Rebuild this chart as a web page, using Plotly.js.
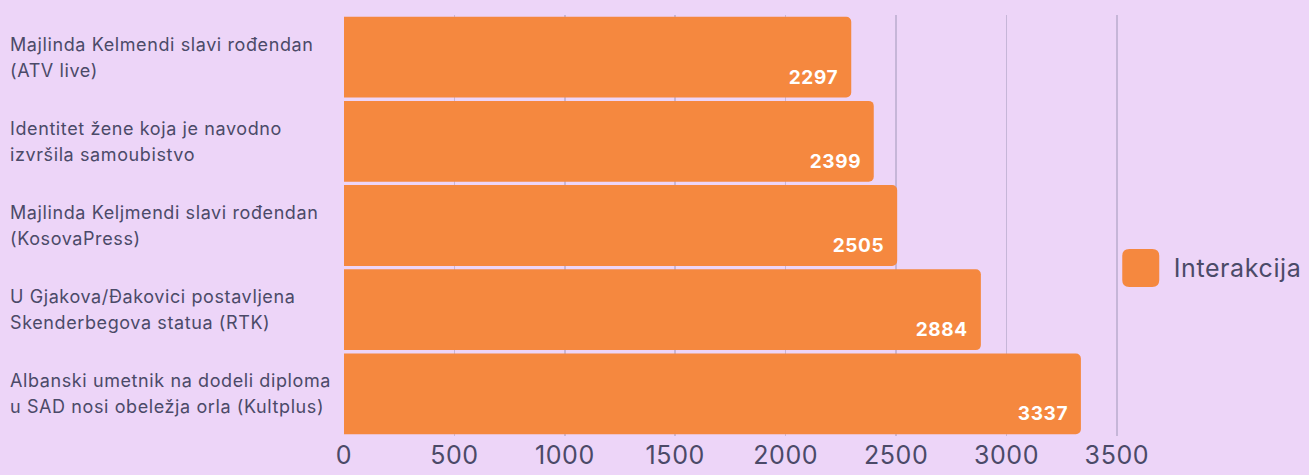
<!DOCTYPE html>
<html>
<head>
<meta charset="utf-8">
<script src="https://cdn.plot.ly/plotly-3.0.1.min.js"></script>
<style>
html,body{margin:0;padding:0;background:#EDD5F8;}
#chart{width:1309px;height:475px;}
#chart .annotation-text{letter-spacing:0.6px;}
#chart .xtick text{letter-spacing:0.6px;}
</style>
</head>
<body>
<div id="chart"></div>
<script>
const categories = [
  "Majlinda Kelmendi slavi rođendan<br>(ATV live)",
  "Identitet žene koja je navodno<br>izvršila samoubistvo",
  "Majlinda Keljmendi slavi rođendan<br>(KosovaPress)",
  "U Gjakova/Đakovici postavljena<br>Skenderbegova statua (RTK)",
  "Albanski umetnik na dodeli diploma<br>u SAD nosi obeležja orla (Kultplus)"
];
const values = [2297, 2399, 2505, 2884, 3337];
const seriesName = "Interakcija";
const tickVals = [0, 500, 1000, 1500, 2000, 2500, 3000, 3500];

const textColor = "#4B4A68";
const barColor = "#F5883F";
const bg = "#EDD5F8";
const fam = "Inter, 'Noto Sans', sans-serif";

const annotations = [];
categories.forEach((c, i) => {
  const lines = c.split("<br>");
  lines.forEach((ln, j) => {
    annotations.push({
      xref: "paper", yref: "y", x: 0, y: i, xshift: -336,
      yshift: (lines.length - 1) * 13 - j * 26,
      xanchor: "left", yanchor: "middle", align: "left",
      text: ln, showarrow: false,
      font: {family: fam, size: 18, color: textColor}
    });
  });
  annotations.push({
    xref: "x", yref: "y", x: values[i], y: i, xshift: -12, yshift: -20,
    xanchor: "right", yanchor: "middle", text: "<b>" + values[i] + "</b>",
    showarrow: false,
    font: {family: fam, size: 19, color: "#FFFFFF"}
  });
});
annotations.push({
  xref: "paper", yref: "paper", x: 1, xshift: 57, y: 0.4, xanchor: "left", yanchor: "middle",
  text: seriesName, showarrow: false,
  font: {family: fam, size: 25, color: textColor}
});

const trace = {
  type: "bar", orientation: "h",
  x: values, y: categories.map((c, i) => i),
  name: seriesName,
  marker: {color: barColor},
  hoverinfo: "x", showlegend: false
};

const layout = {
  width: 1309, height: 475,
  paper_bgcolor: bg, plot_bgcolor: bg,
  margin: {l: 344, r: 191, t: 15, b: 39},
  bargap: 0.04,
  barcornerradius: 5,
  xaxis: {
    range: [0, 3505], tickvals: tickVals, ticktext: tickVals.map(String),
    showgrid: true, gridcolor: "#C6B6D8", gridwidth: 1.5, zeroline: false,
    showline: false, ticks: "", ticklabelstandoff: 2,
    tickfont: {family: fam, size: 25, color: textColor}
  },
  yaxis: {
    autorange: "reversed", showticklabels: false, showgrid: false, zeroline: false,
    tickvals: categories.map((c, i) => i)
  },
  shapes: [{
    type: "path", xref: "paper", yref: "paper", layer: "above",
    path: "M 1.0145 0.354 L 1.0443 0.354 Q 1.0533 0.354 1.0533 0.3706 L 1.0533 0.4274 Q 1.0533 0.444 1.0443 0.444 L 1.0145 0.444 Q 1.0055 0.444 1.0055 0.4274 L 1.0055 0.3706 Q 1.0055 0.354 1.0145 0.354 Z",
    fillcolor: barColor, line: {width: 0}
  }],
  annotations: annotations,
  showlegend: false
};

Plotly.newPlot("chart", [trace], layout, {displayModeBar: false, staticPlot: true});
</script>
</body>
</html>
